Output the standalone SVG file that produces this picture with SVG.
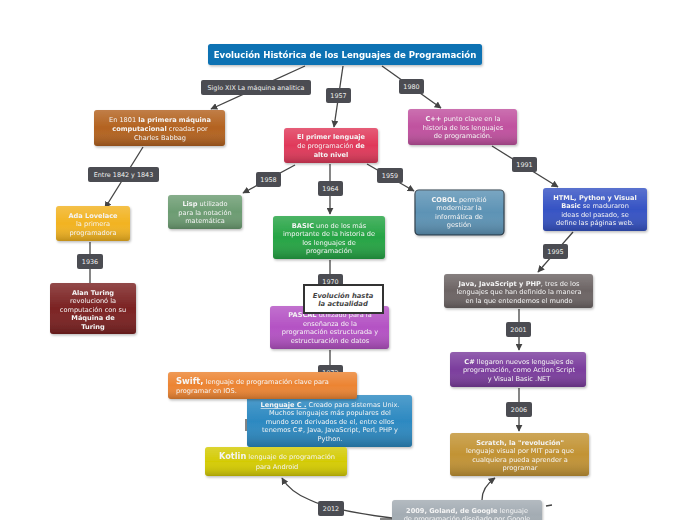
<svg xmlns="http://www.w3.org/2000/svg" width="697" height="520" viewBox="0 0 697 520">
<style>
text{font-family:"DejaVu Sans","Liberation Sans",sans-serif;}
.t{font-size:6.6px;fill:#f4f4f4;text-anchor:middle;}
.b{font-weight:bold;}
.lbl rect{fill:#4b4c52;}
.lbl text{font-size:6.4px;fill:#f0f0f0;text-anchor:middle;}
.c{fill:none;stroke:#444;stroke-width:1.3;}
.ca{fill:none;stroke:#444;stroke-width:1.3;marker-end:url(#ah);}
</style>
<defs>
<marker id="ah" viewBox="0 0 10 10" refX="9" refY="5" markerWidth="7" markerHeight="7" orient="auto" markerUnits="userSpaceOnUse"><path d="M0,0 L10,5 L0,10 z" fill="#444"/></marker>
<linearGradient id="sh" x1="0" y1="0" x2="0" y2="1">
<stop offset="0" stop-color="#fff" stop-opacity="0.18"/>
<stop offset="0.5" stop-color="#fff" stop-opacity="0"/>
<stop offset="1" stop-color="#000" stop-opacity="0.2"/>
</linearGradient>
<filter id="ds" x="-10%" y="-10%" width="130%" height="140%"><feDropShadow dx="1" dy="1.5" stdDeviation="1.2" flood-color="#000" flood-opacity="0.25"/></filter>
</defs>
<rect width="697" height="520" fill="#fff"/>

<g id="connectors">
<path class="ca" d="M305,66 L211,109"/>
<path class="ca" d="M343,66 L334,127"/>
<path class="ca" d="M382,66 L441,108"/>
<path class="ca" d="M143,147 L105,208"/>
<path class="c" d="M90,242 L90,283"/>
<path class="ca" d="M295,165 L243,193"/>
<path class="ca" d="M330,164 L330,214"/>
<path class="ca" d="M367,164 L414,191"/>
<path class="ca" d="M492,146 L558,187"/>
<path class="ca" d="M573,232 L538,272"/>
<path class="c" d="M330,260 L330,290"/>
<path class="c" d="M330,350 L330,372"/>
<path class="ca" d="M519,309 L519,350"/>
<path class="ca" d="M519,388 L519,431"/>
<path class="ca" d="M482,500 Q482,487 495,478"/>
<path class="ca" d="M392,518 Q330,510 310,500 Q290,492 282,478"/>
<path class="c" d="M546,506 L552,505"/>
<path class="c" d="M380,519 L392,519"/>
<path class="c" d="M246,419 L246,431"/>
</g>

<g id="title" filter="url(#ds)">
<rect x="208" y="44" width="274" height="21" rx="2.5" fill="#0b72b3"/>
<text x="345" y="58" style="font-size:8.6px;fill:#fff;text-anchor:middle;font-weight:bold">Evolución Histórica de los Lenguajes de Programación</text>
</g>

<g id="n-babbage" filter="url(#ds)">
<rect x="94" y="110" width="131" height="36" rx="3" fill="#b3621f"/>
<rect x="94" y="110" width="131" height="36" rx="3" fill="url(#sh)"/>
<text class="t" x="160" y="122">En 1801 <tspan class="b">la primera máquina</tspan></text>
<text class="t" x="160" y="131"><tspan class="b">computacional</tspan> creadas por</text>
<text class="t" x="160" y="140">Charles Babbag</text>
</g>

<g id="n-alto" filter="url(#ds)">
<rect x="284" y="128" width="94" height="35" rx="3" fill="#e0395a"/>
<rect x="284" y="128" width="94" height="35" rx="3" fill="url(#sh)"/>
<text class="t" x="331" y="139"><tspan class="b">El primer lenguaje</tspan></text>
<text class="t" x="331" y="148">de programación <tspan class="b">de</tspan></text>
<text class="t" x="331" y="157"><tspan class="b">alto nivel</tspan></text>
</g>

<g id="n-cpp" filter="url(#ds)">
<rect x="408" y="109" width="109" height="36" rx="3" fill="#c0519f"/>
<rect x="408" y="109" width="109" height="36" rx="3" fill="url(#sh)"/>
<text class="t" x="463" y="121"><tspan class="b">C++</tspan> punto clave en la</text>
<text class="t" x="463" y="130">historia de los lenguajes</text>
<text class="t" x="463" y="138">de programación.</text>
</g>

<g id="n-ada" filter="url(#ds)">
<rect x="56" y="206" width="74" height="35" rx="3" fill="#f2b321"/>
<rect x="56" y="206" width="74" height="35" rx="3" fill="url(#sh)"/>
<text class="t" x="93" y="218"><tspan class="b">Ada Lovelace</tspan></text>
<text class="t" x="93" y="226">la primera</text>
<text class="t" x="93" y="235">programadora</text>
</g>

<g id="n-turing" filter="url(#ds)">
<rect x="50" y="283" width="86" height="51" rx="3" fill="#7b2222"/>
<rect x="50" y="283" width="86" height="51" rx="3" fill="url(#sh)"/>
<text class="t" x="93" y="295"><tspan class="b">Alan Turing</tspan></text>
<text class="t" x="93" y="303">revolucionó la</text>
<text class="t" x="93" y="312">computación con su</text>
<text class="t" x="93" y="320"><tspan class="b">Máquina de</tspan></text>
<text class="t" x="93" y="329"><tspan class="b">Turing</tspan></text>
</g>

<g id="n-lisp" filter="url(#ds)">
<rect x="168" y="195" width="74" height="34" rx="3" fill="#6c9c72"/>
<rect x="168" y="195" width="74" height="34" rx="3" fill="url(#sh)"/>
<text class="t" x="205" y="206"><tspan class="b">Lisp</tspan> utilizado</text>
<text class="t" x="205" y="215">para la notación</text>
<text class="t" x="205" y="223">matemática</text>
</g>

<g id="n-basic" filter="url(#ds)">
<rect x="273" y="216" width="112" height="43" rx="3" fill="#25a444"/>
<rect x="273" y="216" width="112" height="43" rx="3" fill="url(#sh)"/>
<text class="t" x="329" y="228"><tspan class="b">BASIC</tspan> uno de los más</text>
<text class="t" x="329" y="236">importante de la historia de</text>
<text class="t" x="329" y="245">los lenguajes de</text>
<text class="t" x="329" y="253">programación</text>
</g>

<g id="n-cobol" filter="url(#ds)">
<rect x="415" y="190" width="89" height="45" rx="4" fill="#5d93b5" stroke="#2f3e4a" stroke-width="1.2"/>
<rect x="415" y="190" width="89" height="45" rx="4" fill="url(#sh)"/>
<text class="t" x="459" y="202"><tspan class="b">COBOL</tspan> permitió</text>
<text class="t" x="459" y="210">modernizar la</text>
<text class="t" x="459" y="219">informática de</text>
<text class="t" x="459" y="227">gestión</text>
</g>

<g id="n-html" filter="url(#ds)">
<rect x="543" y="188" width="104" height="43" rx="3" fill="#3653c4"/>
<rect x="543" y="188" width="104" height="43" rx="3" fill="url(#sh)"/>
<text class="t" x="595" y="200"><tspan class="b">HTML, Python y Visual</tspan></text>
<text class="t" x="595" y="208"><tspan class="b">Basic</tspan> se maduraron</text>
<text class="t" x="595" y="217">ideas del pasado, se</text>
<text class="t" x="595" y="225">define las páginas web.</text>
</g>

<g id="n-java" filter="url(#ds)">
<rect x="444" y="274" width="149" height="34" rx="3" fill="#6c6464"/>
<rect x="444" y="274" width="149" height="34" rx="3" fill="url(#sh)"/>
<text class="t" x="519" y="286"><tspan class="b">Java, JavaScript y PHP</tspan>,  tres de los</text>
<text class="t" x="519" y="294">lenguajes que han definido la manera</text>
<text class="t" x="519" y="303">en la que entendemos el mundo</text>
</g>

<g id="n-csharp" filter="url(#ds)">
<rect x="450" y="352" width="136" height="35" rx="3" fill="#7b3d9d"/>
<rect x="450" y="352" width="136" height="35" rx="3" fill="url(#sh)"/>
<text class="t" x="519" y="364"><tspan class="b">C#</tspan> llegaron nuevos lenguajes de</text>
<text class="t" x="519" y="372">programación, como Action Script</text>
<text class="t" x="519" y="381">y  Visual Basic .NET</text>
</g>

<g id="n-scratch" filter="url(#ds)">
<rect x="450" y="433" width="139" height="43" rx="3" fill="#c29334"/>
<rect x="450" y="433" width="139" height="43" rx="3" fill="url(#sh)"/>
<text class="t" x="520" y="445"><tspan class="b">Scratch, la "revolución"</tspan></text>
<text class="t" x="520" y="453">lenguaje visual por MIT para que</text>
<text class="t" x="520" y="462">cualquiera pueda aprender a</text>
<text class="t" x="520" y="470">programar</text>
</g>

<g id="n-goland" filter="url(#ds)">
<rect x="392" y="500" width="150" height="30" rx="3" fill="#a3acb3"/>
<rect x="392" y="500" width="150" height="30" rx="3" fill="url(#sh)"/>
<text class="t" x="467" y="513"><tspan class="b">2009, Goland, de Google</tspan> lenguaje</text>
<text class="t" x="467" y="521">de programación diseñado por Google</text>
</g>

<g id="n-pascal" filter="url(#ds)">
<rect x="270" y="306" width="119" height="43" rx="3" fill="#b452c4"/>
<rect x="270" y="306" width="119" height="43" rx="3" fill="url(#sh)"/>
<text class="t" x="330" y="317"><tspan class="b">PASCAL</tspan> utilizado para la</text>
<text class="t" x="330" y="326">enseñanza de la</text>
<text class="t" x="330" y="334">programación estructurada y</text>
<text class="t" x="330" y="343">estructuración de datos</text>
</g>

<g id="labels">
<g class="lbl"><rect x="201" y="80" width="110" height="15" rx="2"/><text x="256" y="90">Siglo XIX La máquina analitica</text></g>
<g class="lbl"><rect x="326" y="88" width="25" height="15" rx="2"/><text x="338.5" y="98">1957</text></g>
<g class="lbl"><rect x="399" y="79" width="25" height="15" rx="2"/><text x="411.5" y="89">1980</text></g>
<g class="lbl"><rect x="88" y="167" width="71" height="15" rx="2"/><text x="123.5" y="177">Entre 1842 y 1843</text></g>
<g class="lbl"><rect x="77" y="254" width="26" height="15" rx="2"/><text x="90" y="264">1936</text></g>
<g class="lbl"><rect x="256" y="172" width="25" height="15" rx="2"/><text x="268.5" y="182">1958</text></g>
<g class="lbl"><rect x="318" y="181" width="25" height="15" rx="2"/><text x="330.5" y="191">1964</text></g>
<g class="lbl"><rect x="377" y="168" width="26" height="15" rx="2"/><text x="390" y="178">1959</text></g>
<g class="lbl"><rect x="512" y="157" width="25" height="15" rx="2"/><text x="524.5" y="167">1991</text></g>
<g class="lbl"><rect x="543" y="244" width="25" height="15" rx="2"/><text x="555.5" y="254">1995</text></g>
<g class="lbl"><rect x="506" y="322" width="25" height="15" rx="2"/><text x="518.5" y="332">2001</text></g>
<g class="lbl"><rect x="506" y="402" width="26" height="15" rx="2"/><text x="519" y="412">2006</text></g>
<g class="lbl"><rect x="318" y="501" width="26" height="15" rx="2"/><text x="331" y="511">2012</text></g>
<g class="lbl"><rect x="318" y="274" width="25" height="15" rx="2"/><text x="330.5" y="284">1970</text></g>
<g class="lbl"><rect x="318" y="365" width="25" height="15" rx="2"/><text x="330.5" y="375">1972</text></g>
</g>

<g id="n-evolucion">
<rect x="304" y="285" width="79" height="28" fill="#fff" stroke="#333" stroke-width="2"/>
<text x="343" y="298" style="font-size:6.8px;fill:#444;text-anchor:middle;font-weight:bold;font-style:italic">Evolución hasta</text>
<text x="343" y="306" style="font-size:6.8px;fill:#444;text-anchor:middle;font-weight:bold;font-style:italic">la actualidad</text>
</g>

<g id="n-swift" filter="url(#ds)">
<rect x="247" y="395" width="165" height="52" rx="3" fill="#2c89c1"/>
<rect x="247" y="395" width="165" height="52" rx="3" fill="url(#sh)"/>
<text class="t" x="330" y="407"><tspan class="b" text-decoration="underline">Lenguaje C .</tspan> Creado para sistemas Unix.</text>
<text class="t" x="330" y="415">Muchos lenguajes más populares del</text>
<text class="t" x="330" y="424">mundo son derivados de el, entre ellos</text>
<text class="t" x="330" y="432">tenemos C#, Java, JavaScript, Perl, PHP y</text>
<text class="t" x="330" y="441">Python.</text>
</g>

<g id="n-swift-lang" filter="url(#ds)">
<rect x="168" y="372" width="189" height="27" rx="3" fill="#ec8432"/>
<rect x="168" y="372" width="189" height="27" rx="3" fill="url(#sh)"/>
<text x="176" y="384" style="font-size:6.6px;fill:#f6f6f6"><tspan class="b" style="font-size:8.4px">Swift,</tspan>  lenguaje de programación clave para</text>
<text x="176" y="393" style="font-size:6.6px;fill:#f6f6f6">programar en IOS.</text>
</g>

<g id="n-kotlin" filter="url(#ds)">
<rect x="205" y="447" width="142" height="29" rx="3" fill="#d4cb04"/>
<rect x="205" y="447" width="142" height="29" rx="3" fill="url(#sh)"/>
<text class="t" x="277" y="459"><tspan class="b" style="font-size:8.2px">Kotlin</tspan> lenguaje de programación</text>
<text class="t" x="277" y="469">para Android</text>
</g>
</svg>
